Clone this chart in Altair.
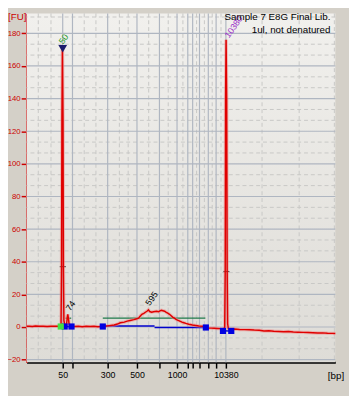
import altair as alt
import pandas as pd

# ---- trace (migration position a.u., fluorescence FU) ----
trace_x = ([27, 30, 33, 36, 40, 44, 48, 52, 56, 60, 61.8]
           + [62.3, 62.8, 63.2, 63.7, 64.3, 64.7, 65.2, 66]
           + [67, 68, 68.7, 69.2, 69.8, 70.5, 71.5, 73]
           + [76, 80, 84, 88, 92, 96, 100, 104]
           + [105, 110, 116.7, 120, 123, 127, 130, 133, 136.7, 139,
              141.7, 143, 145, 147, 149, 150.5, 151.7, 153, 155, 157,
              160, 162, 163.5, 165, 166.5, 168.3, 170, 171.5, 173.3, 175,
              176.5, 178.3, 180, 181.5, 183.3, 186, 188, 190, 193, 196.7,
              200, 203.3, 207, 210]
           + [213, 216, 219, 222, 226, 229]
           + [229.8, 230.3, 230.7, 231.2, 231.8, 232.3, 232.8, 233.5]
           + [236, 240, 245, 250, 255, 260, 265, 270, 275, 280, 285, 290,
              295, 300, 305, 310, 315, 320, 325, 330, 335, 340, 343])
trace_y = ([0.4, 0.5, 0.3, 0.6, 0.4, 0.5, 0.3, 0.5, 0.4, 0.5, 0.5]
           + [2, 36, 127, 171, 127, 36, 4, 1.5]
           + [1.2, 2, 6, 7.8, 5.5, 2, 0.8, 0.4]
           + [0.3, 0.5, 0.2, 0.4, 0.3, 0.4, 0.2, 0.3]
           + [0.3, 0.7, 1.2, 1.8, 2.6, 3.0, 3.6, 4.0, 4.5, 4.9,
              5.4, 6.5, 7.8, 8.4, 9.2, 9.8, 10.5, 9.5, 9.1, 9.4,
              9.6, 9.3, 9.9, 10.2, 10.0, 9.7, 9.0, 8.5, 7.8, 6.9,
              6.1, 5.4, 4.7, 4.2, 3.8, 3.0, 2.6, 2.2, 1.7, 1.2,
              0.9, 0.6, 0.4, 0.2]
           + [-0.6, -0.7, -0.8, -0.9, -1.0, -1.1]
           + [0, 34, 140, 176, 140, 34, 2, -1.0]
           + [-1.4, -1.2, -1.5, -1.6, -1.7, -1.9, -2.0, -2.4, -2.3, -2.6, -2.7, -2.9,
              -2.8, -3.1, -3.2, -3.3, -3.4, -3.5, -3.7, -3.6, -3.8, -3.9, -4.0])

# ---- x axis ladder ticks ----
tick_x = [64, 74, 110, 140, 163, 181, 192, 197, 204, 213, 221, 231]
tick_labels = ["50", "", "300", "500", "", "1000", "", "", "", "", "", "10380"]
minor_x = [39, 52, 86, 98, 122, 131, 152, 172, 187, 201, 209, 217, 226, 268, 306, 342]

# ---- y grid ----
major_y = [-20, 0, 20, 40, 60, 80, 100, 120, 140, 160, 180]
minor_y = [-13.33, -6.67, 6.67, 13.33, 26.67, 33.33, 46.67, 53.33, 66.67, 73.33,
           86.67, 93.33, 106.67, 113.33, 126.67, 133.33, 146.67, 153.33,
           166.67, 173.33, 190]

# ---- region / peak annotations ----
green_x = [105, 66.7]
green_x2 = [210, 72.7]
green_y = [5.4, 5.4]
blue_x = [105, 158, 228, 66]
blue_x2 = [158, 210, 236.5, 73]
blue_y = [0.6, -0.3, -2.4, 0.3]
bar_x = [61, 228.5]
bar_x2 = [67, 234.5]
bar_y = [37, 34]
blue_pt_x = [66, 73, 105, 210.5, 228, 236.5]
blue_pt_y = [0.3, 0.3, 0.3, -0.3, -2.4, -2.4]
green_pt_x = [62]
green_pt_y = [0.3]
tri_x = [64]
tri_y = [170.5]
plabel_text = ["50", "74", "595", "10380"]
plabel_x = [65, 72, 155, 239]
plabel_y = [176.5, 13, 17.5, 184]
plabel_color = ["#1f9a1f", "#000000", "#000000", "#9a30c8"]

FONT = "Liberation Sans"
W, H = 316, 357
xs = alt.Scale(domain=[27, 343], nice=False, zero=False)
ys = alt.Scale(domain=[-21.6, 192.2], nice=False, zero=False)

label_expr = " : ".join(
    f"datum.value == {v} ? '{t}'" for v, t in zip(tick_x, tick_labels) if t
) + " : ''"

xaxis = alt.Axis(values=tick_x, labelExpr=label_expr, grid=False, title=None,
                 domainColor="#000000", domainWidth=2, tickColor="#000000",
                 tickSize=6, tickWidth=1.5, labelColor="#000000", labelFont=FONT,
                 labelFontSize=9, labelPadding=3, labelOverlap=False, labelFlush=False)
yaxis = alt.Axis(values=major_y, grid=False, title=None,
                 domainColor="#cc0000", domainWidth=2, tickColor="#cc0000",
                 tickSize=5.5, tickWidth=1.5, labelColor="#cc0000", labelFont=FONT,
                 labelFontSize=8, labelPadding=1)


def X(f):
    return alt.X(f, type="quantitative", scale=xs, axis=xaxis)


def Y(f):
    return alt.Y(f, type="quantitative", scale=ys, axis=yaxis)


bg = alt.Chart(pd.DataFrame({"a": [0]})).mark_rect(
    color=alt.LinearGradient(gradient="linear", x1=0, y1=0, x2=0, y2=1,
                             stops=[alt.GradientStop(color="#f1f0ed", offset=0),
                                    alt.GradientStop(color="#dedcd7", offset=1)])
).encode(x=alt.value(0), x2=alt.value(W), y=alt.value(0), y2=alt.value(H))

minor_h = alt.Chart(pd.DataFrame({"y": minor_y})).mark_rule(
    color="#c8c8c6", strokeDash=[4, 3], strokeWidth=1).encode(y=Y("y"))
minor_v = alt.Chart(pd.DataFrame({"x": minor_x})).mark_rule(
    color="#c8c8c6", strokeDash=[4, 3], strokeWidth=1).encode(x=X("x"))
major_h = alt.Chart(pd.DataFrame({"y": major_y})).mark_rule(
    color="#afb6c1", strokeWidth=1.2).encode(y=Y("y"))
major_v = alt.Chart(pd.DataFrame({"x": tick_x})).mark_rule(
    color="#afb6c1", strokeWidth=1.2).encode(x=X("x"))

tdf = pd.DataFrame({"x": trace_x, "y": trace_y})
halo = alt.Chart(tdf).mark_line(color="#f08a8a", strokeWidth=3.5, opacity=0.5,
                                interpolate="linear").encode(x=X("x"), y=Y("y"))
line = alt.Chart(tdf).mark_line(color="#e00000", strokeWidth=1.5,
                                interpolate="linear").encode(x=X("x"), y=Y("y"))

green = alt.Chart(pd.DataFrame({"x": green_x, "x2": green_x2, "y": green_y})).mark_rule(
    color="#1e7a4a", strokeWidth=1.3).encode(x=X("x"), x2="x2", y=Y("y"))
blue = alt.Chart(pd.DataFrame({"x": blue_x, "x2": blue_x2, "y": blue_y})).mark_rule(
    color="#0000cc", strokeWidth=1.5).encode(x=X("x"), x2="x2", y=Y("y"))
bars = alt.Chart(pd.DataFrame({"x": bar_x, "x2": bar_x2, "y": bar_y})).mark_rule(
    color="#202020", strokeWidth=1.2).encode(x=X("x"), x2="x2", y=Y("y"))

bpts = alt.Chart(pd.DataFrame({"x": blue_pt_x, "y": blue_pt_y})).mark_point(
    shape="square", filled=True, size=40, color="#0000e0", opacity=1).encode(x=X("x"), y=Y("y"))
gpts = alt.Chart(pd.DataFrame({"x": green_pt_x, "y": green_pt_y})).mark_point(
    shape="square", filled=True, size=40, color="#44e044", opacity=1).encode(x=X("x"), y=Y("y"))
tri = alt.Chart(pd.DataFrame({"x": tri_x, "y": tri_y})).mark_point(
    shape="triangle-down", filled=True, size=80, color="#1c1c6c", opacity=1).encode(x=X("x"), y=Y("y"))

plabels = alt.Chart(pd.DataFrame({"x": plabel_x, "y": plabel_y, "t": plabel_text,
                                  "c": plabel_color})).mark_text(
    angle=305, font=FONT, fontSize=9, align="center", baseline="middle").encode(
    x=X("x"), y=Y("y"), text="t:N", color=alt.Color("c:N", scale=None))

fu = alt.Chart(pd.DataFrame({"t": ["[FU]"]})).mark_text(
    font=FONT, fontSize=10, color="#cc0000", align="left", baseline="alphabetic").encode(
    x=alt.value(-19), y=alt.value(7), text="t:N")
bp = alt.Chart(pd.DataFrame({"t": ["[bp]"]})).mark_text(
    font=FONT, fontSize=10, color="#000000", align="right", baseline="alphabetic").encode(
    x=alt.value(325), y=alt.value(374), text="t:N")
samp = alt.Chart(pd.DataFrame({"t": ["Sample 7 E8G Final Lib.", "1ul, not denatured"],
                               "yy": [7, 20]})).mark_text(
    font=FONT, fontSize=10, color="#000000", align="right", baseline="alphabetic").encode(
    x=alt.value(311), y=alt.Y("yy:Q", scale=None, axis=None), text="t:N")

chart = alt.layer(bg, minor_h, minor_v, major_h, major_v, green, blue, bars, halo, line,
                  bpts, gpts, tri, plabels, fu, bp, samp).properties(
    width=W, height=H,
    autosize=alt.AutoSizeParams(type="none"),
    padding={"left": 19, "top": 1, "right": 14, "bottom": 30},
    background="#d4d0c8",
).configure_view(stroke=None)

chart.save("out.html", embed_options={"renderer": "svg", "actions": False})
